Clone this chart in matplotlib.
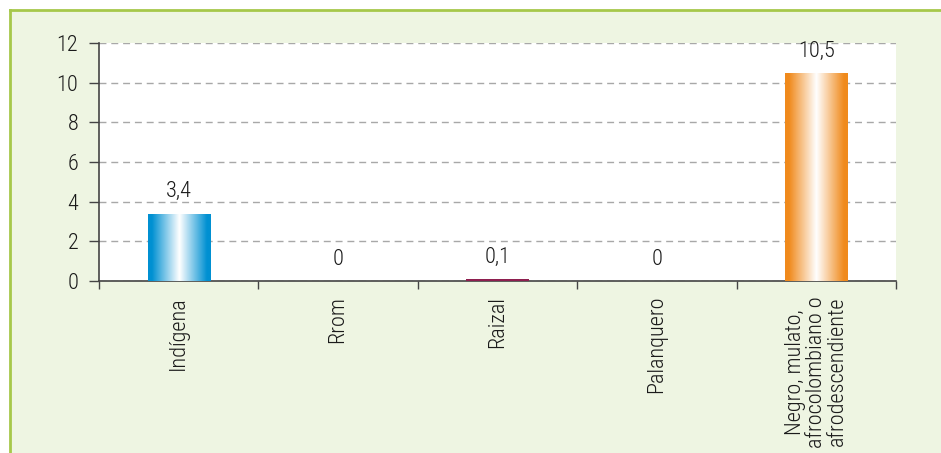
import numpy as np
import matplotlib
matplotlib.use("Agg")
import matplotlib.pyplot as plt
from matplotlib.colors import LinearSegmentedColormap
from matplotlib.lines import Line2D

plt.rcParams['font.family'] = ['Roboto Condensed', 'Archivo Narrow', 'PT Sans Narrow', 'DejaVu Sans']
plt.rcParams['font.weight'] = 'light'

categories = ["Indígena", "Rrom", "Raizal", "Palanquero",
              "Negro, mulato,\nafrocolombiano o\nafrodescendiente"]
values = [3.4, 0, 0.1, 0, 10.5]
value_labels = ["3,4", "0", "0,1", "0", "10,5"]
edge_colors = ["#0090d2", "#0090d2", "#8e1f4f", "#0090d2", "#f08a1c"]
y_ticks = [0, 2, 4, 6, 8, 10, 12]

FS = 16
W, H = 941, 453
fig = plt.figure(figsize=(W / 100, H / 100), dpi=100)
fig.patch.set_facecolor("white")

# light green panel with its top and left border
panel = plt.Rectangle((10 / W, 0), 1, 1 - 10 / H, transform=fig.transFigure,
                      facecolor="#eef5e2", edgecolor="none", zorder=-10)
fig.add_artist(panel)
fig.add_artist(Line2D([10 / W, 1], [1 - 10 / H, 1 - 10 / H], transform=fig.transFigure,
                      color="#a6c84a", lw=2, zorder=-9))
fig.add_artist(Line2D([10 / W, 10 / W], [0, 1 - 10 / H], transform=fig.transFigure,
                      color="#a6c84a", lw=2, zorder=-9))

ax = fig.add_axes([99 / W, 1 - 281 / H, (896 - 99) / W, (281 - 43) / H])
ax.set_facecolor("white")

x = np.arange(len(categories))
ax.set_xlim(-0.5, len(categories) - 0.5)
ax.set_ylim(0, 12)

bars = ax.bar(x, values, width=0.39, color="none", edgecolor="none", zorder=3)

def gradient_cmap(c):
    return LinearSegmentedColormap.from_list("g", [c, "#ffffff", c])

prof = np.linspace(0, 1, 256)
# slight plateau at the edges
prof = np.clip((prof - 0.06) / 0.88, 0, 1)[None, :]
for b, c, v in zip(bars, edge_colors, values):
    if v <= 0:
        continue
    x0, w, h = b.get_x(), b.get_width(), b.get_height()
    if v < 0.5:
        ax.bar(b.get_x() + w / 2, v, width=w, color=c, zorder=3)
        continue
    im = ax.imshow(prof, cmap=gradient_cmap(c), aspect="auto",
                   extent=(x0, x0 + w, 0, h), zorder=3, interpolation="bilinear")
    im.set_clip_path(b)

for xi, v, lab in zip(x, values, value_labels):
    ax.annotate(lab, (xi, v), xytext=(0, 8), textcoords="offset points",
                ha="center", va="bottom", fontsize=FS, color="#1a1a1a")

ax.set_yticks(y_ticks)
ax.set_yticklabels([str(t) for t in y_ticks], fontsize=FS, color="#1a1a1a")
ax.yaxis.grid(True, linestyle=(0, (5, 3.5)), color="#a8a8a8", lw=1)
ax.set_axisbelow(True)

ax.set_xticks(np.arange(len(categories) + 1) - 0.5)
ax.set_xticklabels([])
ax.tick_params(axis="y", length=7, width=1, color="#444444", pad=8)
ax.tick_params(axis="x", length=6, width=1, color="#444444")

for xi, lab in zip(x, categories):
    ax.text(xi, -0.75, lab, rotation=90, ha="center", va="top",
            multialignment="center", fontsize=FS, color="#1a1a1a",
            linespacing=1.0)

for s in ["top", "right"]:
    ax.spines[s].set_visible(False)
for s in ["left", "bottom"]:
    ax.spines[s].set_color("#444444")
    ax.spines[s].set_linewidth(1.2)

fig.savefig("out.png", dpi=100, facecolor=fig.get_facecolor())
